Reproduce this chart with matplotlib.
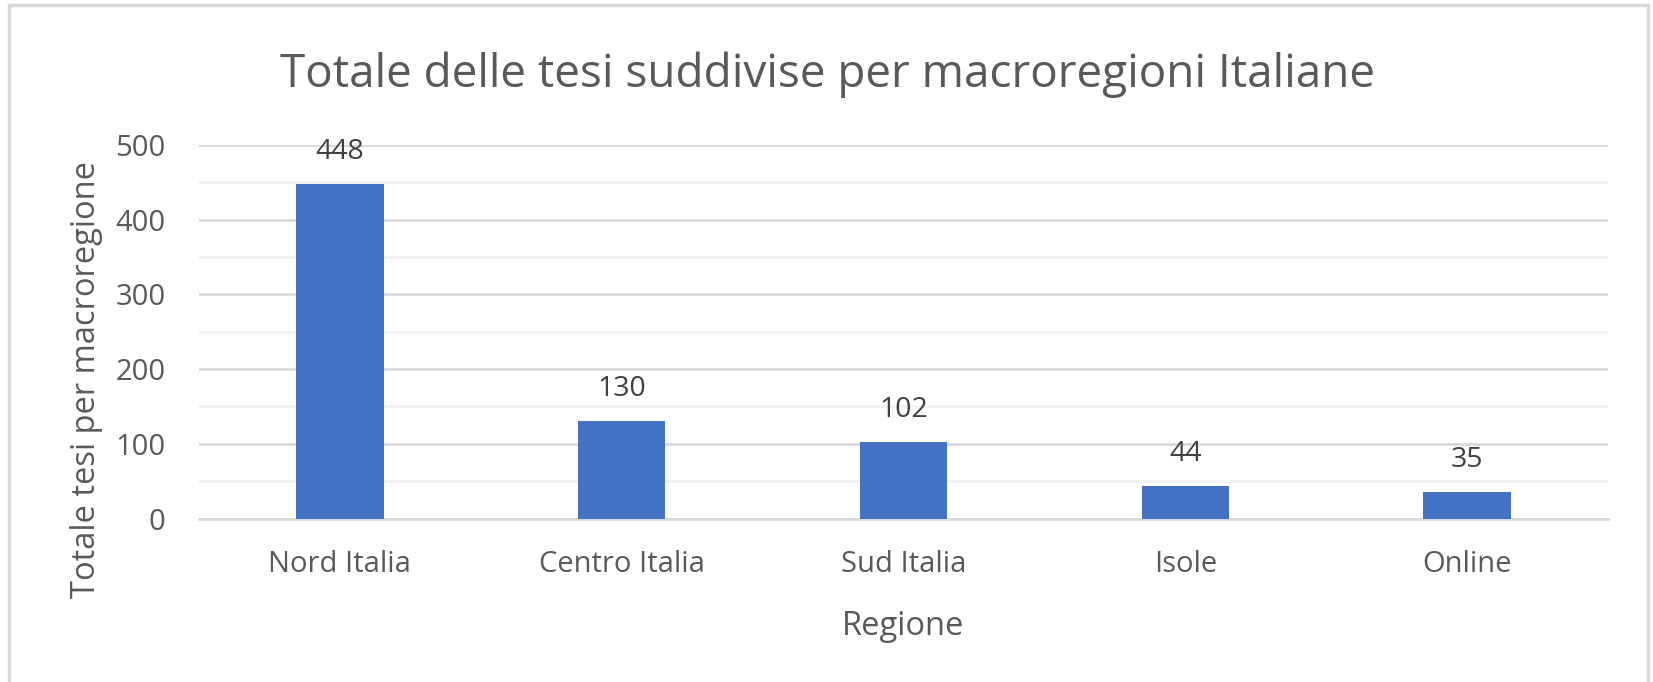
import matplotlib.pyplot as plt
import matplotlib.patches as mpatches
import numpy as np

# data
regioni = ['Nord Italia', 'Centro Italia', 'Sud Italia', 'Isole', 'Online']
tesi = [448, 130, 102, 44, 35]
y_ticks = [0, 100, 200, 300, 400, 500]

plt.rcParams['font.family'] = ['Open Sans', 'DejaVu Sans']
grey = '#595959'

fig = plt.figure(figsize=(16.53, 6.82), dpi=100)
W, H = 1653, 682

# outer frame of the chart area
fig.patches.append(mpatches.Rectangle((9 / W, -0.01), (1648 - 9) / W, 1.01 - 5 / H,
                                      transform=fig.transFigure, fill=False,
                                      edgecolor='#d9d9d9', linewidth=2.5))

ax = fig.add_axes([199 / W, 1 - 518.5 / H, (1608 - 199) / W, (518.5 - 145) / H])

x = np.arange(len(regioni))
ax.bar(x, tesi, width=0.31, color='#4472C4', zorder=3)

for xi, v in zip(x, tesi):
    ax.annotate(str(v), (xi, v), xytext=(0, 13), textcoords='offset points',
                ha='center', va='bottom', fontsize=20.5, color='#404040')

ax.set_xlim(-0.5, len(regioni) - 0.5)
ax.set_ylim(0, 500)
ax.set_yticks(y_ticks)
ax.set_yticks(np.arange(50, 500, 100), minor=True)
ax.set_xticks(x)
ax.set_xticklabels(regioni)

ax.grid(axis='y', which='major', color='#d9d9d9', linewidth=2, zorder=0)
ax.grid(axis='y', which='minor', color='#f2f2f2', linewidth=2, zorder=0)
for s in ['top', 'right', 'left']:
    ax.spines[s].set_visible(False)
ax.spines['bottom'].set_color('#d9d9d9')
ax.spines['bottom'].set_linewidth(2)

ax.tick_params(axis='both', which='both', length=0, labelsize=21, labelcolor=grey)
ax.tick_params(axis='y', pad=24)
ax.tick_params(axis='x', pad=23)

ax.set_xlabel('Regione', fontsize=23.5, color=grey, labelpad=22)

# y label is centred lower than the axes in the original
fig.text(87 / W, 1 - 380 / H, 'Totale tesi per macroregione', rotation=90,
         ha='center', va='center', fontsize=23.5, color=grey)

fig.text(828 / W, 1 - 75 / H, 'Totale delle tesi suddivise per macroregioni Italiane',
         ha='center', va='center', fontsize=33, color=grey)

plt.savefig('out.png')
